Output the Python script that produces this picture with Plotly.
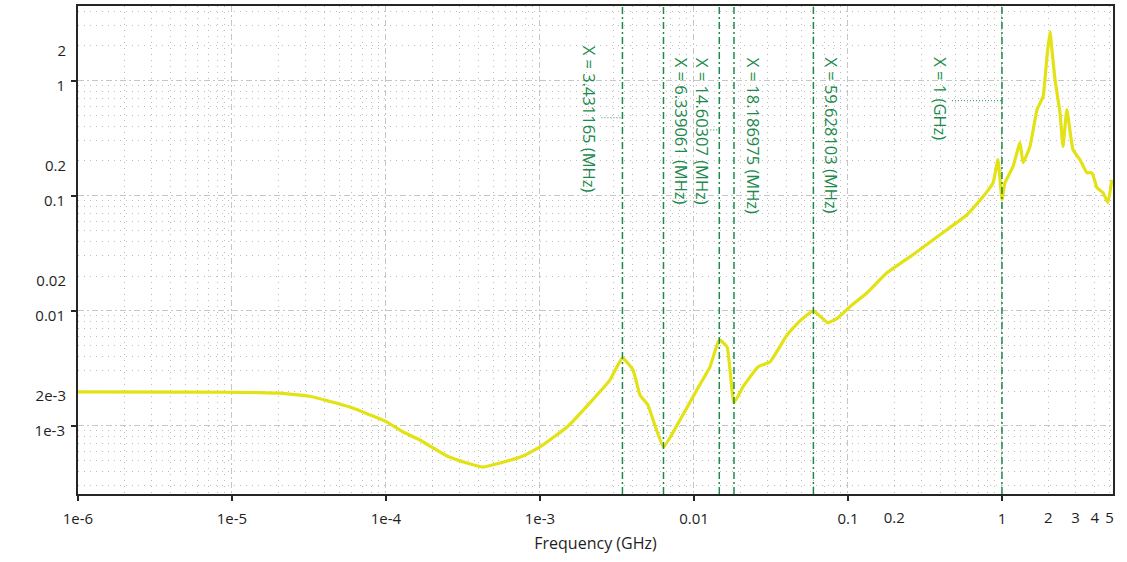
import numpy as np
import plotly.graph_objects as go

# Response curve (frequency in GHz, magnitude)
freq_ghz = [
    1.0e-6, 6.2e-6, 1.5e-5, 2.05e-5, 3.21e-5, 4.33e-5, 5.83e-5, 7.87e-5,
    1.01e-4, 1.29e-4, 1.66e-4, 2.02e-4, 2.49e-4, 3.36e-4, 4.27e-4, 5.50e-4,
    7.76e-4, 1.0e-3, 1.50e-3, 2.11e-3, 2.85e-3, 3.431165e-3, 4.02e-3, 4.46e-3,
    5.02e-3, 6.339061e-3, 8.11e-3, 1.045e-2, 1.27e-2, 1.460307e-2, 1.64e-2,
    1.8186975e-2, 2.08e-2, 2.60e-2, 3.12e-2, 4.02e-2, 4.88e-2, 5.9628103e-2,
    7.41e-2, 8.61e-2, 0.103, 0.133, 0.179, 0.264, 0.396, 0.593, 0.753, 0.875,
    0.942, 1.0, 1.045, 1.18, 1.31, 1.37, 1.52, 1.69, 1.85, 1.96, 2.05, 2.11,
    2.21, 2.38, 2.49, 2.64, 2.89, 3.21, 3.56, 3.84, 4.14, 4.53, 4.88, 5.17,
]
magnitude = [
    1.97e-3, 1.96e-3, 1.94e-3, 1.92e-3, 1.80e-3, 1.62e-3, 1.45e-3, 1.24e-3,
    1.08e-3, 8.81e-4, 7.51e-4, 6.40e-4, 5.45e-4, 4.73e-4, 4.37e-4, 4.73e-4,
    5.45e-4, 6.53e-4, 9.75e-4, 1.58e-3, 2.50e-3, 3.88e-3, 3.05e-3, 1.85e-3,
    1.51e-3, 6.53e-4, 1.12e-3, 2.05e-3, 3.24e-3, 5.57e-3, 4.84e-3,
    1.58e-3, 2.17e-3, 3.24e-3, 3.59e-3, 6.15e-3, 8.15e-3, 9.96e-3,
    7.83e-3, 8.66e-3, 1.08e-2, 1.43e-2, 2.13e-2, 3.06e-2, 4.57e-2, 6.82e-2, 9.77e-2, 0.129,
    0.205, 0.092, 0.129, 0.179, 0.289, 0.193, 0.267, 0.560, 0.726, 1.62, 2.67, 1.86,
    1.02, 0.527, 0.267, 0.560, 0.251, 0.205, 0.158, 0.158, 0.117, 0.106, 0.0867, 0.137,
]

# Vertical marker positions (GHz) and their labels
marker_freq = [3.431165e-3, 6.339061e-3, 1.460307e-2, 1.8186975e-2, 5.9628103e-2, 1.0]
marker_text = [
    "X = 3.431165 (MHz)", "X = 6.339061 (MHz)", "X = 14.60307 (MHz)",
    "X = 18.186975 (MHz)", "X = 59.628103 (MHz)", "X = 1 (GHz)",
]
marker_label_shift = [-33, 18, -17, 19, 18, -61]
marker_label_top = [0.923, 0.898, 0.898, 0.898, 0.898, 0.898]

# Axis ticks
x_major = [1e-6, 1e-5, 1e-4, 1e-3, 1e-2, 1e-1, 1.0]
x_major_text = ["1e-6", "1e-5", "1e-4", "1e-3", "0.01", "0.1", "1"]
x_extra = [0.2, 2, 3, 4, 5]
x_extra_text = ["0.2", "2", "3", "4", "5"]
y_major = [1e-3, 1e-2, 1e-1, 1.0]
y_major_text = ["1e-3", "0.01", "0.1", "1"]
y_extra = [2e-3, 0.02, 0.2, 2]
y_extra_text = ["2e-3", "0.02", "0.2", "2"]

x_range = [-6, 0.721]
y_range = [-3.594, 0.648]

x_minor = [k * 10.0 ** n for n in range(-6, 1) for k in range(2, 10)]
y_minor = [k * 10.0 ** n for n in range(-4, 1) for k in range(2, 10)]

GREEN = "#1d8a4c"
YELLOW = "#e2e214"
FONT = "Open Sans"
TXT = "#1e1e1e"
MAJOR_DASH = "6px,3px,2px,3px"
MINOR_DASH = "1px,5px"
TICK_SIZE = 15

# plot-area width in px and px per decade on the x axis
PLOT_W = 1127 - 78 - 14
PX_PER_DECADE = PLOT_W / (x_range[1] - x_range[0])

fig = go.Figure()

fig.add_trace(go.Scatter(
    x=freq_ghz, y=magnitude, mode="lines",
    line=dict(color=YELLOW, width=3.2, shape="spline", smoothing=0.35),
    hoverinfo="x+y",
))

# invisible trace to carry the secondary label axes
fig.add_trace(go.Scatter(x=[1e-3], y=[1e-3], xaxis="x2", yaxis="y2",
                         mode="markers", marker=dict(opacity=0), hoverinfo="skip"))

for f in marker_freq:
    fig.add_shape(type="line", xref="x", yref="y domain",
                  x0=f, x1=f, y0=0, y1=1,
                  line=dict(color=GREEN, width=1.5, dash="7px,3px,2px,3px"),
                  layer="above")

for f, t, dx, top in zip(marker_freq, marker_text, marker_label_shift, marker_label_top):
    fig.add_annotation(x=np.log10(f), xref="x", y=top, yref="paper",
                       text=t, textangle=90, showarrow=False,
                       xanchor="center", yanchor="top", xshift=dx,
                       font=dict(family=FONT, size=16.5, color=GREEN))

# dotted leaders from labels to their marker lines (length in px)
leaders = [(marker_freq[0], 21, 0.771), (marker_freq[2], 9, 0.746), (marker_freq[5], 50, 0.806)]
for f, length, yp in leaders:
    fig.add_shape(type="line", xref="x", yref="paper",
                  x0=f / 10 ** (length / PX_PER_DECADE), x1=f, y0=yp, y1=yp,
                  line=dict(color=GREEN, width=1, dash="1px,2px"))

axis_common = dict(
    type="log", showline=True, linecolor="#262626", linewidth=2, mirror=True,
    ticks="outside", ticklen=5, tickwidth=1.5, tickcolor="#262626",
    tickfont=dict(family=FONT, size=TICK_SIZE, color=TXT),
    showgrid=True, gridcolor="#c6c6c6", gridwidth=1, griddash=MAJOR_DASH,
    zeroline=False,
)

fig.update_layout(
    width=1127, height=562,
    margin=dict(l=78, r=14, t=6, b=68, autoexpand=False),
    paper_bgcolor="white", plot_bgcolor="white", showlegend=False,
    xaxis=dict(
        **axis_common, range=x_range, tickvals=x_major, ticktext=x_major_text,
        ticklabelstandoff=5,
        minor=dict(tickvals=x_minor, showgrid=True, gridcolor="#bdbdbd",
                   griddash=MINOR_DASH, gridwidth=1, ticks=""),
        title=dict(text="Frequency (GHz)", font=dict(family=FONT, size=16, color=TXT),
                   standoff=11),
    ),
    yaxis=dict(
        **axis_common, range=y_range, tickvals=y_major, ticktext=y_major_text,
        ticklabelstandoff=3, ticklabelshift=5,
        minor=dict(tickvals=y_minor, showgrid=True, gridcolor="#bdbdbd",
                   griddash=MINOR_DASH, gridwidth=1, ticks=""),
    ),
    xaxis2=dict(
        type="log", overlaying="x", anchor="y", side="bottom", range=x_range,
        tickvals=x_extra, ticktext=x_extra_text, showgrid=False, showline=False,
        zeroline=False, ticks="outside", ticklen=5, tickcolor="rgba(0,0,0,0)",
        ticklabelstandoff=5, tickfont=dict(family=FONT, size=TICK_SIZE, color=TXT),
    ),
    yaxis2=dict(
        type="log", overlaying="y", anchor="x", side="left", range=y_range,
        tickvals=y_extra, ticktext=y_extra_text, showgrid=False, showline=False,
        zeroline=False, ticks="outside", ticklen=5, tickcolor="rgba(0,0,0,0)",
        ticklabelstandoff=3, ticklabelshift=5,
        tickfont=dict(family=FONT, size=TICK_SIZE, color=TXT),
    ),
)

fig.write_html("out.html")
